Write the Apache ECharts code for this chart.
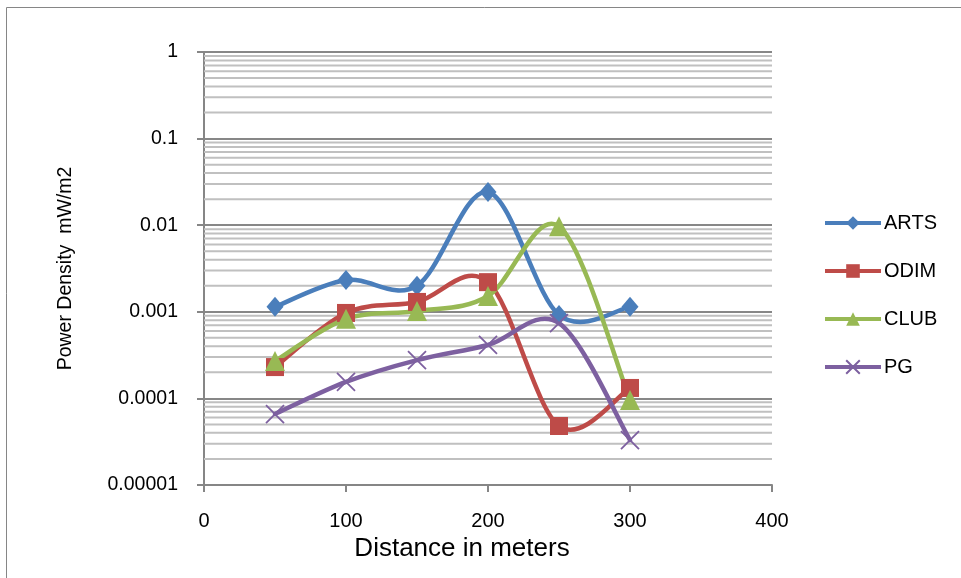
<!DOCTYPE html>
<html><head><meta charset="utf-8">
<script src="https://cdn.jsdelivr.net/npm/echarts@6/dist/echarts.min.js"></script>
<style>html,body{margin:0;padding:0;background:#fff}#c{width:961px;height:578px}</style>
</head><body><div id="c"></div>
<script>
const distances = [50, 100, 150, 200, 250, 300];
const arts = [0.00114, 0.00233, 0.0020, 0.0242, 0.00092, 0.00114];
const odim = [0.00023, 0.00097, 0.0013, 0.0022, 0.000048, 0.000132];
const club = [0.00027, 0.00083, 0.00102, 0.00152, 0.0097, 0.000096];
const pg = [0.000066, 0.000155, 0.000277, 0.000414, 0.00074, 0.000033];
const yTickLabels = ['0.00001', '0.0001', '0.001', '0.01', '0.1', '1'];
const seriesNames = ['ARTS', 'ODIM', 'CLUB', 'PG'];

const font = 'Liberation Sans';
// minor grid lines (2..9 within each decade), drawn through the y scale
const minorGrid = [];
for (let d = -5; d <= -1; d++) for (let k = 2; k <= 9; k++) {
  const v = k * Math.pow(10, d);
  minorGrid.push([0, v], [400, v], [400, null]);
}

function pairs(vals) { return distances.map((x, i) => [x, vals[i]]); }
const colors = ['#4a7ebb', '#be4b48', '#98b954', '#7d60a0'];
const symbols = ['diamond', 'rect', 'triangle', 'path://M0,0L10,10M10,0L0,10'];
const sizes = [[17, 20], 18, 20, 18];
const allVals = [arts, odim, club, pg];

// Excel-style smoothed curve (Catmull-Rom Bezier), points obtained from the chart's own scales
function curveRenderer(color) {
  return function (params, api) {
    if (params.dataIndexInside !== 0) return null;
    const n = params.dataInsideLength;
    const p = [];
    for (let j = 0; j < n; j++) p.push(api.coord([api.value(0, j), api.value(1, j)]));
    let d = 'M' + p[0][0] + ' ' + p[0][1];
    for (let j = 0; j < n - 1; j++) {
      const p0 = p[Math.max(j - 1, 0)], p1 = p[j], p2 = p[j + 1], p3 = p[Math.min(j + 2, n - 1)];
      const c1x = p1[0] + (p2[0] - p0[0]) / 6, c1y = p1[1] + (p2[1] - p0[1]) / 6;
      const c2x = p2[0] - (p3[0] - p1[0]) / 6, c2y = p2[1] - (p3[1] - p1[1]) / 6;
      d += ' C' + c1x + ' ' + c1y + ' ' + c2x + ' ' + c2y + ' ' + p2[0] + ' ' + p2[1];
    }
    return { type: 'path', shape: { pathData: d },
      style: { fill: 'none', stroke: color, lineWidth: 4.5, lineJoin: 'round', lineCap: 'round' } };
  };
}

const series = [{
  name: 'minor', type: 'line', data: minorGrid, z: 1, silent: true, connectNulls: false,
  symbol: 'none', showSymbol: false, lineStyle: { color: '#c0c0c0', width: 2 }
}];
seriesNames.forEach((n, i) => {
  series.push({
    name: n + ' curve', type: 'custom', data: pairs(allVals[i]), z: 2, silent: true,
    encode: { x: 0, y: 1 }, renderItem: curveRenderer(colors[i])
  });
});
seriesNames.forEach((n, i) => {
  series.push({
    name: n, type: 'line', data: pairs(allVals[i]),
    symbol: symbols[i], symbolSize: sizes[i], showSymbol: true,
    lineStyle: { color: colors[i], width: 4.5, opacity: 0 },
    itemStyle: i === 3 ? { color: 'rgba(0,0,0,0)', borderColor: colors[i], borderWidth: 1.8 } : { color: colors[i], borderWidth: 0 },
    z: 3
  });
});

const chart = echarts.init(document.getElementById('c'), null, { renderer: 'canvas' });
chart.setOption({
  animation: false,
  color: colors,
  graphic: [{ type: 'rect', shape: { x: 6.5, y: 7.5, width: 1200, height: 800 }, style: { fill: 'none', stroke: '#868686', lineWidth: 1 } }],
  grid: { left: 204, right: 189, top: 52, bottom: 93 },
  legend: {
    data: seriesNames, orient: 'vertical', left: 823, top: 213, itemGap: 28, padding: 0,
    itemWidth: 56, itemHeight: 17,
    lineStyle: { width: 4, opacity: 1 },
    textStyle: { fontFamily: font, fontSize: 20, lineHeight: 20, color: '#000', padding: [0, 0, 0, -2] }
  },
  xAxis: {
    type: 'value', min: 0, max: 400, interval: 100,
    name: 'Distance in meters', nameLocation: 'middle', nameGap: 50,
    nameTextStyle: { fontFamily: font, fontSize: 26, color: '#000', padding: [0, 52, 0, 0] },
    axisLine: { lineStyle: { color: '#868686', width: 2 } },
    axisTick: { show: true, length: 7, lineStyle: { color: '#868686', width: 2 } },
    axisLabel: { fontFamily: font, fontSize: 20, color: '#000', margin: 26 },
    splitLine: { show: false }
  },
  yAxis: {
    type: 'log', logBase: 10, min: 0.00001, max: 1,
    name: 'Power Density  mW/m2', nameLocation: 'middle', nameGap: 128,
    nameTextStyle: { fontFamily: font, fontSize: 19.5, color: '#000' },
    axisLine: { show: true, lineStyle: { color: '#868686', width: 2 } },
    axisTick: { show: true, length: 7, lineStyle: { color: '#868686', width: 2 } },
    axisLabel: { fontFamily: font, fontSize: 19.5, color: '#000', margin: 26,
      formatter: v => yTickLabels[Math.round(Math.log10(v)) + 5] },
    splitLine: { show: true, lineStyle: { color: '#878787', width: 2 } }
  },
  series: series
});
</script></body></html>
